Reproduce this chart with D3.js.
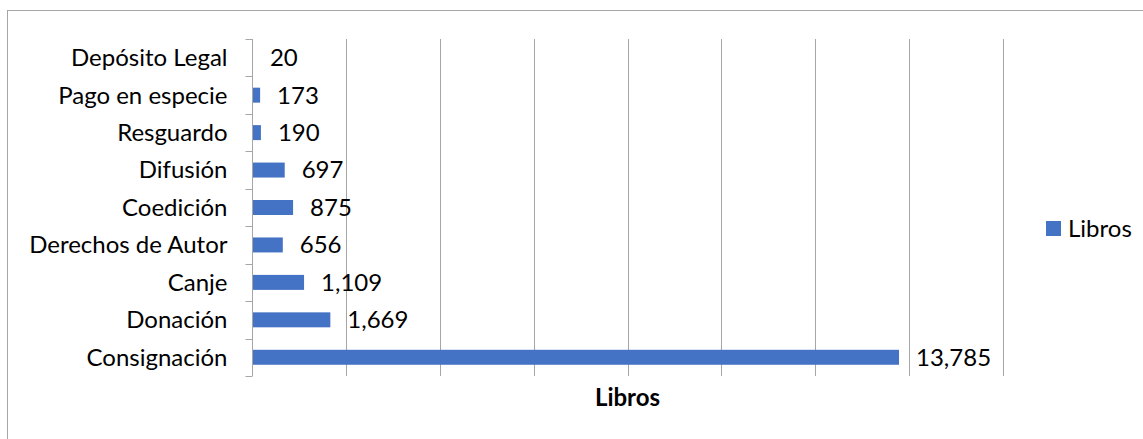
<!DOCTYPE html>
<html><head><meta charset="utf-8">
<script src="https://cdn.jsdelivr.net/npm/d3@7"></script>
<style>body{margin:0;background:#fff}svg{display:block}</style>
</head><body>
<svg id="c" width="1143" height="439"></svg>
<script>
const categories = ["Depósito Legal","Pago en especie","Resguardo","Difusión","Coedición","Derechos de Autor","Canje","Donación","Consignación"];
const libros = [20,173,190,697,875,656,1109,1669,13785];
const xTicks = [0,2000,4000,6000,8000,10000,12000,14000,16000];
const seriesName = "Libros";
const axisTitle = "Libros";

const svg = d3.select("#c");
const font = "Lato, 'Open Sans', sans-serif";
const fs = 24;
const W = 1143, H = 439;
const m = {left:252, right:1003, top:39, bottom:376};

svg.append("rect").attr("x",7.5).attr("y",10.5).attr("width",W+10).attr("height",H+10)
  .attr("fill","#fff").attr("stroke","#a6a6a6").attr("stroke-width",1);

const x = d3.scaleLinear().domain([0,16000]).range([m.left,m.right]);
const y = d3.scaleBand().domain(categories).range([m.top,m.bottom]).paddingInner(0.6).paddingOuter(0.3);

// gridlines
svg.append("g").selectAll("line").data(xTicks.slice(1)).join("line")
  .attr("x1",d=>Math.round(x(d))+0.5).attr("x2",d=>Math.round(x(d))+0.5)
  .attr("y1",m.top).attr("y2",m.bottom)
  .attr("stroke","#a6a6a6").attr("stroke-width",1);

// bars
svg.append("g").selectAll("rect").data(categories).join("rect")
  .attr("x",x(0)).attr("y",(d)=>y(d))
  .attr("width",(d,i)=>x(libros[i])-x(0)).attr("height",y.bandwidth())
  .attr("fill","#4472c4");

// y axis
const yb = d3.scaleBand().domain(categories).range([m.top,m.bottom]);
const yAxis = svg.append("g").attr("transform",`translate(${m.left+0.5},0)`);
yAxis.append("line").attr("x1",0).attr("x2",0).attr("y1",m.top).attr("y2",m.bottom).attr("stroke","#a6a6a6");
const tickYs = categories.map(c=>yb(c)).concat([m.bottom]);
yAxis.selectAll("line.t").data(tickYs).join("line").attr("class","t")
  .attr("x1",-7).attr("x2",0).attr("y1",d=>Math.round(d)+0.5).attr("y2",d=>Math.round(d)+0.5).attr("stroke","#a6a6a6");
yAxis.selectAll("text").data(categories).join("text")
  .attr("x",-25).attr("y",d=>yb(d)+yb.bandwidth()/2).attr("dy","0.35em")
  .attr("text-anchor","end").attr("font-family",font).attr("font-size",fs).attr("fill","#000")
  .text(d=>d);

// value labels
svg.append("g").selectAll("text").data(categories).join("text")
  .attr("x",(d,i)=>x(libros[i])+17).attr("y",d=>y(d)+y.bandwidth()/2).attr("dy","0.35em")
  .attr("font-family",font).attr("font-size",fs).attr("fill","#000")
  .text((d,i)=>d3.format(",")(libros[i]));

// axis title
svg.append("text").attr("x",(m.left+m.right)/2).attr("y",406)
  .attr("text-anchor","middle").attr("font-family",font).attr("font-weight","bold").attr("font-size",fs)
  .text(axisTitle);

// legend
svg.append("rect").attr("x",1046).attr("y",221).attr("width",15).attr("height",15).attr("fill","#4472c4");
svg.append("text").attr("x",1068).attr("y",228.5).attr("dy","0.35em")
  .attr("font-family",font).attr("font-size",fs).text(seriesName);
</script>
</body></html>
